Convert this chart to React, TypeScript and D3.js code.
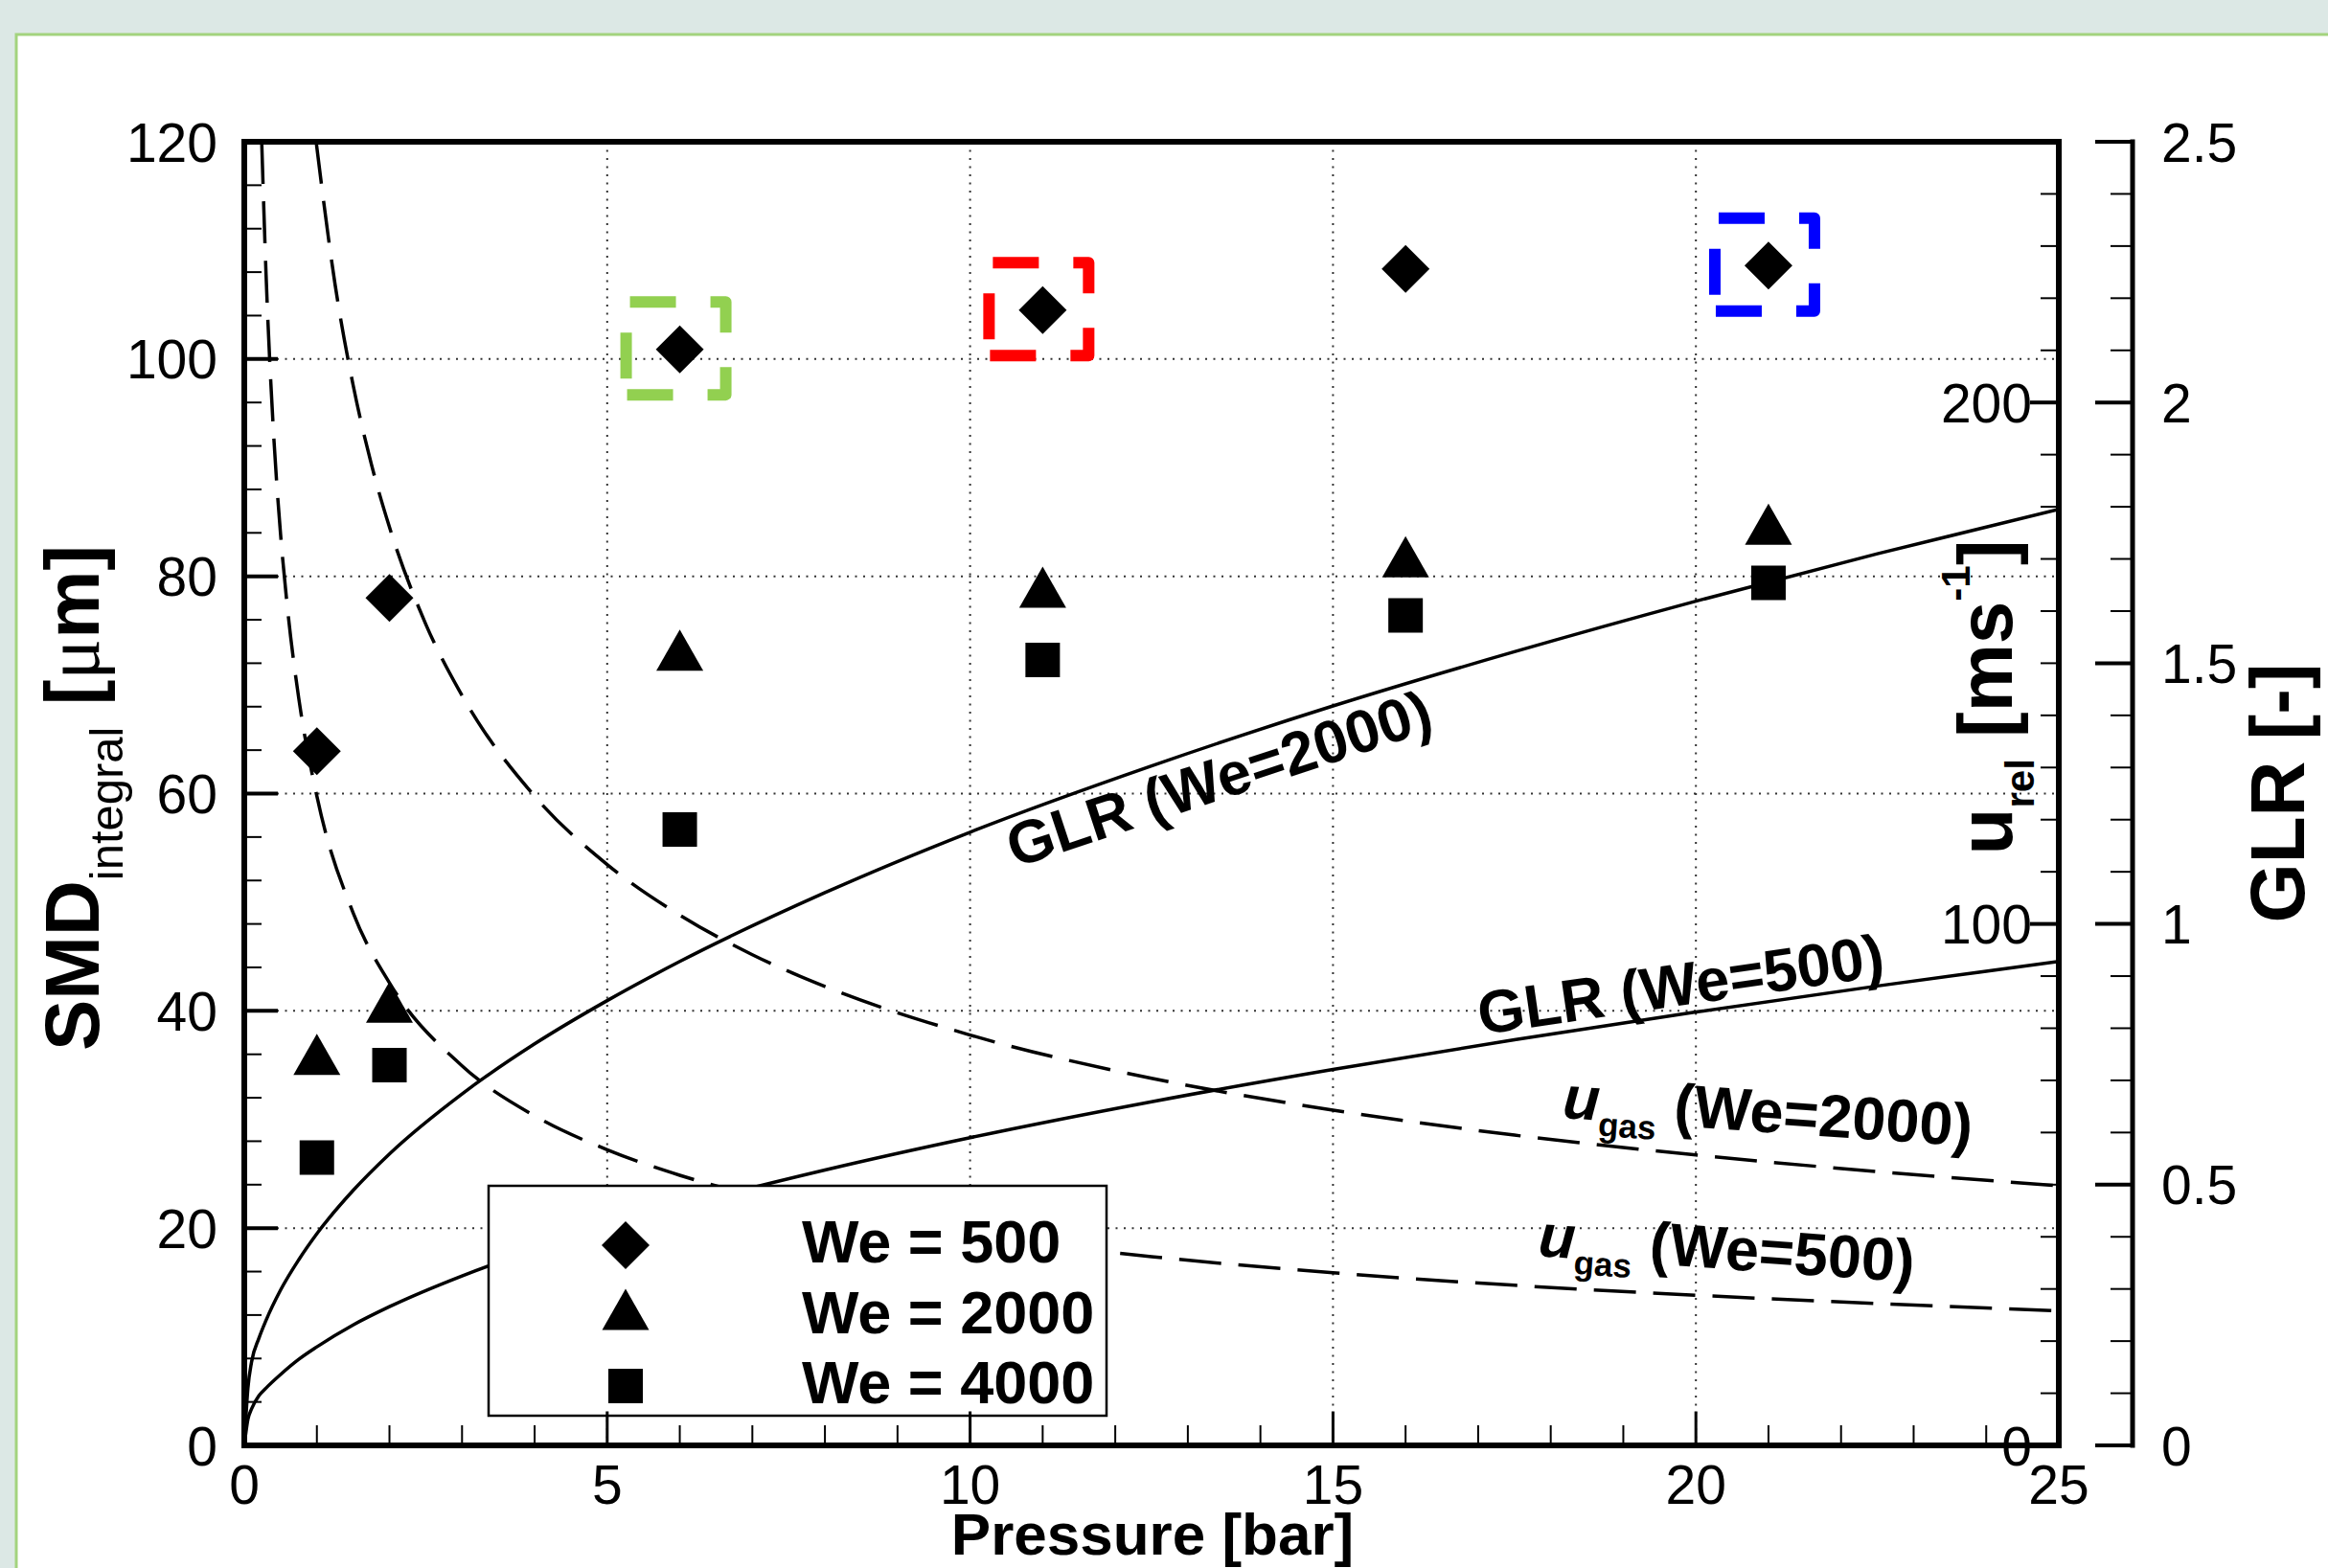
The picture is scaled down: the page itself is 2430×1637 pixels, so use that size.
import * as d3 from "d3";

// measured points (SMD integral, µm) at each pressure
const pressure = [1, 2, 6, 11, 16, 21];
const smdWe500 = [63.9, 78.0, 100.9, 104.5, 108.3, 108.6];
const smdWe2000 = [36.0, 40.8, 73.2, 79.0, 81.8, 84.8];
const smdWe4000 = [26.5, 35.0, 56.7, 72.3, 76.4, 79.4];

// GLR curves (right axis, GLR [-])
const glrP = [0, 0.05, 0.1, 0.2, 0.3, 0.5, 0.75, 1, 1.5, 2, 3, 4, 5, 6, 8, 10, 12.5, 15, 17.5, 20, 22.5, 25];
const glrWe2000 = [0, 0.11, 0.16, 0.205, 0.24, 0.298, 0.356, 0.406, 0.489, 0.559, 0.674, 0.77, 0.853, 0.928, 1.06, 1.176, 1.303, 1.418, 1.522, 1.619, 1.71, 1.795];
const glrWe500 = [0, 0.05, 0.07, 0.095, 0.11, 0.136, 0.165, 0.189, 0.231, 0.266, 0.325, 0.375, 0.418, 0.458, 0.528, 0.59, 0.659, 0.721, 0.778, 0.831, 0.881, 0.928];

// u_gas curves (right axis, u_rel [m/s])
const ugasP2000 = [0.99, 1.25, 1.5, 1.75, 2, 2.5, 3, 4, 5, 6, 7, 8, 10, 12.5, 15, 17.5, 20, 22.5, 25];
const ugasWe2000 = [250, 222.7, 203.3, 188.2, 176.1, 157.5, 143.8, 124.5, 111.4, 101.7, 94.1, 88.0, 78.7, 70.4, 64.3, 59.5, 55.7, 52.5, 49.8];
const ugasP500 = [0.24, 0.3, 0.4, 0.5, 0.6, 0.75, 1, 1.5, 2, 3, 4, 5, 6, 8, 10, 12.5, 15, 17.5, 20, 22.5, 25];
const ugasWe500 = [250, 224.5, 194.9, 174.7, 159.9, 143.3, 124.5, 102.1, 88.7, 72.8, 63.2, 56.7, 51.8, 45.0, 40.4, 36.2, 33.1, 30.7, 28.8, 27.2, 25.8];

// axes
const pressureTicks = [0, 5, 10, 15, 20, 25];
const smdTicks = [0, 20, 40, 60, 80, 100, 120];
const urelTicks = [0, 100, 200];
const glrTicks = [0, 0.5, 1, 1.5, 2, 2.5];
const glrTickLabels = ["0", "0.5", "1", "1.5", "2", "2.5"];

const legendLabels = ["We = 500", "We = 2000", "We = 4000"];
const highlightP = [6, 11, 21];
const highlightColors = ["#92d050", "#ff0000", "#0000ff"];

const FONT = "'Liberation Sans', Arial, Helvetica, sans-serif";

function diamond(cx, cy) {
  const r = 25;
  return `M${cx},${cy - r}L${cx + r},${cy}L${cx},${cy + r}L${cx - r},${cy}Z`;
}
function triangle(cx, cy) {
  return `M${cx},${cy - 21.5}L${cx + 24.5},${cy + 21.5}L${cx - 24.5},${cy + 21.5}Z`;
}
function square(cx, cy) {
  return `M${cx - 18},${cy - 18}h36v36h-36Z`;
}

export default function App() {
  const W = 2430;
  const H = 1637;
  const left = 255, right = 2149, top = 148, bottom = 1509;
  const glrAxisX = 2226;

  const x = d3.scaleLinear().domain([0, 25]).range([left, right]);
  const ySmd = d3.scaleLinear().domain([0, 120]).range([bottom, top]);
  const yU = d3.scaleLinear().domain([0, 250]).range([bottom, top]);
  const yGlr = d3.scaleLinear().domain([0, 2.5]).range([bottom, top]);

  const lineGlr = d3.line().x((d) => x(d[0])).y((d) => yGlr(d[1])).curve(d3.curveMonotoneX);
  const lineU = d3.line().x((d) => x(d[0])).y((d) => yU(d[1])).curve(d3.curveMonotoneX);

  const glr2000 = lineGlr(glrP.map((p, i) => [p, glrWe2000[i]]));
  const glr500 = lineGlr(glrP.map((p, i) => [p, glrWe500[i]]));
  const u2000 = lineU(ugasP2000.map((p, i) => [p, ugasWe2000[i]]));
  const u500 = lineU(ugasP500.map((p, i) => [p, ugasWe500[i]]));

  const xMinor = d3.range(0, 25.001, 1);
  const smdMinor = d3.range(0, 120.001, 4);
  const uMinor = d3.range(0, 250.001, 10);
  const glrMinor = d3.range(0, 2.5001, 0.1);

  const series = [
    { vals: smdWe500, shape: diamond },
    { vals: smdWe2000, shape: triangle },
    { vals: smdWe4000, shape: square },
  ];

  return (
    <svg width={W} height={H} viewBox={`0 0 ${W} ${H}`} style={{ position: "absolute", left: 0, top: 0 }} fontFamily={FONT}>
      <defs>
        <clipPath id="plotClip">
          <rect x={left} y={top} width={right - left} height={bottom - top} />
        </clipPath>
      </defs>
      <rect x={0} y={0} width={W} height={H} fill="#dce8e5" />
      <rect x={17} y={36} width={W} height={H} fill="#fff" stroke="#a3d37e" strokeWidth={3} />

      {/* grid */}
      <g stroke="#333" strokeWidth={2} strokeDasharray="2 6.5">
        {pressureTicks.filter((t) => t > 0 && t < 25).map((t) => (
          <line key={"gx" + t} x1={x(t)} x2={x(t)} y1={top} y2={bottom} />
        ))}
        {smdTicks.filter((t) => t > 0 && t < 120).map((t) => (
          <line key={"gy" + t} x1={left} x2={right} y1={ySmd(t)} y2={ySmd(t)} />
        ))}
      </g>

      {/* curves */}
      <g clipPath="url(#plotClip)" fill="none" stroke="#000" strokeWidth={3.5}>
        <path d={glr2000} />
        <path d={glr500} />
        <path d={u2000} strokeDasharray="44 18" />
        <path d={u500} strokeDasharray="44 18" />
      </g>

      {/* markers */}
      {series.map((s, si) => (
        <g key={"s" + si} fill="#000">
          {pressure.map((p, i) => (
            <path key={i} d={s.shape(x(p), ySmd(s.vals[i]))} />
          ))}
        </g>
      ))}

      {/* highlight boxes */}
      {highlightP.map((p, i) => {
        const v = smdWe500[pressure.indexOf(p)];
        const cx = x(p) - 4;
        const cy = ySmd(v) - 1;
        const x0 = cx - 52, x1 = cx + 52, y0 = cy - 48.5, y1 = cy + 48.5;
        return (
          <path
            key={"hb" + i}
            d={`M${x0},${y1}L${x0},${y0}L${x1},${y0}L${x1},${y1}Z`}
            fill="none"
            stroke={highlightColors[i]}
            strokeWidth={12}
            strokeDasharray="48 36"
            strokeDashoffset={67}
            strokeLinejoin="round"
          />
        );
      })}

      {/* curve labels */}
      <g fontWeight="bold" fontSize={63} fill="#000">
        <text transform="translate(1272,812) rotate(-18.3)" textAnchor="middle" dy="0.36em">GLR (We=2000)</text>
        <text transform="translate(1754,1027) rotate(-8.3)" textAnchor="middle" dy="0.36em">GLR (We=500)</text>
        <text transform="translate(1844,1182) rotate(4)" textAnchor="middle" style={{ whiteSpace: "pre" }}>
          <tspan fontStyle="italic">u</tspan>
          <tspan fontSize={35} dy={16}>gas</tspan>
          <tspan dy={-16}>{" (We=2000)"}</tspan>
        </text>
        <text transform="translate(1801,1325) rotate(4)" textAnchor="middle" style={{ whiteSpace: "pre" }}>
          <tspan fontStyle="italic">u</tspan>
          <tspan fontSize={35} dy={16}>gas</tspan>
          <tspan dy={-16}>{" (We=500)"}</tspan>
        </text>
      </g>

      {/* legend */}
      <rect x={510} y={1238} width={645} height={240} fill="#fff" stroke="#000" strokeWidth={2.5} />
      {legendLabels.map((lab, i) => {
        const baseY = [1318, 1392, 1465][i];
        const markY = [1300, 1367, 1447][i];
        return (
          <g key={"lg" + i}>
            <path d={series[i].shape(653, markY)} fill="#000" />
            <text x={837} y={baseY} fontSize={63} fontWeight="bold" style={{ whiteSpace: "pre" }}>{lab}</text>
          </g>
        );
      })}

      {/* frame and ticks */}
      <g stroke="#000" strokeLinecap="square">
        {xMinor.map((t) => (
          <line key={"xt" + t} x1={x(t)} x2={x(t)} y1={bottom} y2={bottom - (t % 5 === 0 ? 34 : 20)} strokeWidth={t % 5 === 0 ? 3 : 2} />
        ))}
        {smdMinor.map((t) => (
          <line key={"yt" + t} x1={left} x2={left + (t % 20 === 0 ? 33 : 17)} y1={ySmd(t)} y2={ySmd(t)} strokeWidth={t % 20 === 0 ? 4 : 2} />
        ))}
        {uMinor.map((t) => (
          <line key={"ut" + t} x1={right} x2={right - (t % 100 === 0 ? 28 : 18)} y1={yU(t)} y2={yU(t)} strokeWidth={t % 100 === 0 ? 4 : 2} />
        ))}
        {glrMinor.map((t, i) => (
          <line key={"gt" + i} x1={glrAxisX} x2={glrAxisX - (i % 5 === 0 ? 37 : 22)} y1={yGlr(t)} y2={yGlr(t)} strokeWidth={i % 5 === 0 ? 4 : 2} />
        ))}
        <line x1={left} x2={right} y1={top} y2={top} strokeWidth={6} />
        <line x1={left} x2={right} y1={bottom} y2={bottom} strokeWidth={6} />
        <line x1={left} x2={left} y1={top} y2={bottom} strokeWidth={6} />
        <line x1={right} x2={right} y1={top} y2={bottom} strokeWidth={6} />
        <line x1={glrAxisX} x2={glrAxisX} y1={top} y2={bottom} strokeWidth={5} />
      </g>

      {/* tick labels */}
      <g fontSize={57} fill="#000">
        {pressureTicks.map((t) => (
          <text key={"xl" + t} x={x(t)} y={1570} textAnchor="middle">{t}</text>
        ))}
        {smdTicks.map((t) => (
          <text key={"yl" + t} x={227} y={ySmd(t)} dy="0.36em" textAnchor="end">{t}</text>
        ))}
        {urelTicks.map((t) => (
          <text key={"ul" + t} x={2121} y={yU(t)} dy="0.36em" textAnchor="end">{t}</text>
        ))}
        {glrTicks.map((t, i) => (
          <text key={"gl" + i} x={2256} y={yGlr(t)} dy="0.36em">{glrTickLabels[i]}</text>
        ))}
      </g>

      {/* axis titles */}
      <text x={1203} y={1623} textAnchor="middle" fontSize={62} fontWeight="bold">Pressure [bar]</text>
      <text transform="translate(103,833) rotate(-90)" textAnchor="middle" style={{ whiteSpace: "pre" }}>
        <tspan fontWeight="bold" fontSize={80}>SMD</tspan>
        <tspan fontSize={49} dy={25}>integral</tspan>
        <tspan fontWeight="bold" fontSize={80} dy={-25}>{" ["}</tspan>
        <tspan fontSize={80} fontFamily="'Liberation Serif', serif">μ</tspan>
        <tspan fontWeight="bold" fontSize={80}>m]</tspan>
      </text>
      <text transform="translate(2100,728) rotate(-90)" textAnchor="middle" fontWeight="bold" style={{ whiteSpace: "pre" }}>
        <tspan fontSize={80}>u</tspan>
        <tspan fontSize={42} dy={23}>rel</tspan>
        <tspan fontSize={80} dy={-23}>{" [ms"}</tspan>
        <tspan fontSize={42} dy={-44}>-1</tspan>
        <tspan fontSize={80} dy={44}>]</tspan>
      </text>
      <text transform="translate(2405,828) rotate(-90)" textAnchor="middle" fontWeight="bold" fontSize={80}>GLR [-]</text>
    </svg>
  );
}
